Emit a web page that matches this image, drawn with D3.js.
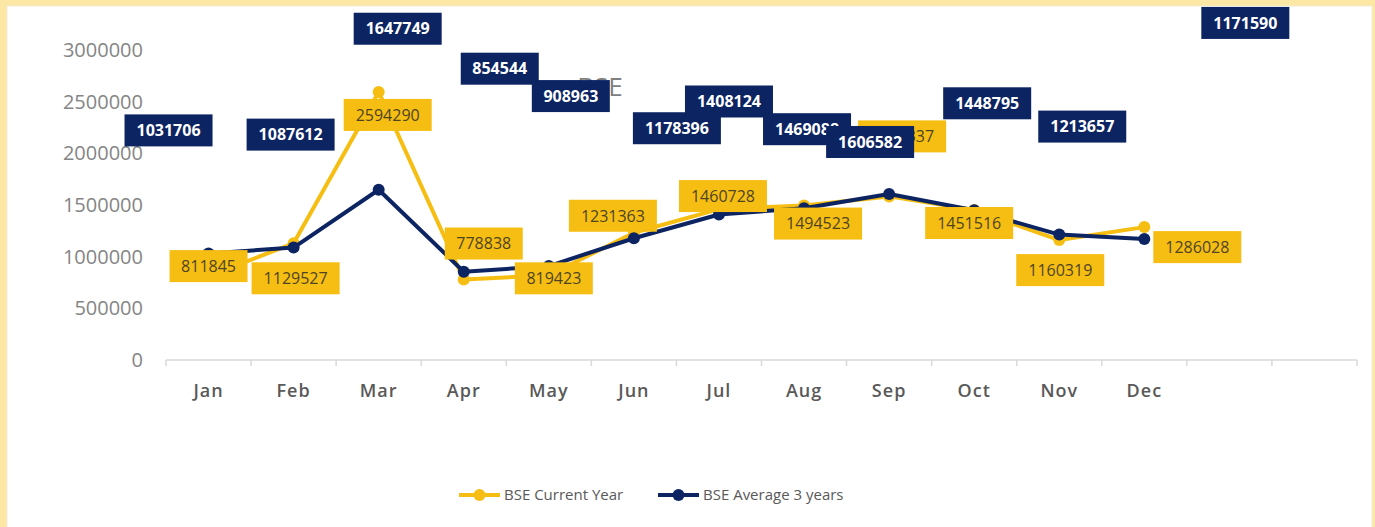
<!DOCTYPE html>
<html lang="en">
<head>
<meta charset="UTF-8">
<title>BSE</title>
<script src="https://d3js.org/d3.v7.min.js"></script>
<style>
  html, body { margin: 0; padding: 0; background: #fde7a4; }
  svg { display: block; }
</style>
</head>
<body>
<svg width="1375" height="527"></svg>
<script>
// chart values
const months = ["Jan", "Feb", "Mar", "Apr", "May", "Jun", "Jul", "Aug", "Sep", "Oct", "Nov", "Dec"];
const slots = 14; // axis has two empty categories at the end
const currentYear = [811845, 1129527, 2594290, 778838, 819423, 1231363, 1460728, 1494523, 1583337, 1451516, 1160319, 1286028];
const average3y = [1031706, 1087612, 1647749, 854544, 908963, 1178396, 1408124, 1469088, 1606582, 1448795, 1213657, 1171590];
const yTicks = [0, 500000, 1000000, 1500000, 2000000, 2500000, 3000000];

// where Excel dropped the data labels, relative to each point (px)
const curLabelOffset = [[0, -10], [2, 35], [9, 23], [20, -36], [5, 3], [-21, -17], [4, -13], [14, 18], [13, -60], [-5, 13], [1, 30], [53, 20]];
const avgLabelOffset = [[-40, -123], [-3, -113], [19, -161], [36, -203], [22, -170], [43, -110], [10, -113], [3, -79], [-19, -52], [13, -107], [23, -108], [101, -216]];

const yellow = "#f6be12";
const navy = "#0c2462";

const svg = d3.select("svg");
svg.append("rect").attr("x", 7).attr("y", 6).attr("width", 1365).attr("height", 530)
   .attr("fill", "#fff").attr("stroke", "#f3ecd6").attr("stroke-width", 1);

const x = d3.scaleBand().domain(d3.range(slots)).range([166, 1357]);
const y = d3.scaleLinear().domain([0, 3000000]).range([360, 50]);
const cx = i => x(i) + x.bandwidth() / 2;

// y axis labels (no axis line)
svg.append("g")
   .selectAll("text")
   .data(yTicks)
   .enter().append("text")
   .attr("x", 143)
   .attr("y", d => y(d))
   .attr("dy", "0.35em")
   .attr("text-anchor", "end")
   .attr("font-family", "Open Sans")
   .attr("font-size", 20)
   .attr("fill", "#858585")
   .text(d => d);

// x axis
const xa = svg.append("g");
xa.append("line").attr("x1", x.range()[0]).attr("x2", x.range()[1])
  .attr("y1", y(0)).attr("y2", y(0)).attr("stroke", "#d9d9d9").attr("stroke-width", 1.5);
xa.selectAll(".tk")
  .data(d3.range(slots + 1))
  .enter().append("line")
  .attr("x1", i => x.range()[0] + i * x.bandwidth())
  .attr("x2", i => x.range()[0] + i * x.bandwidth())
  .attr("y1", y(0)).attr("y2", y(0) + 6)
  .attr("stroke", "#d9d9d9").attr("stroke-width", 1.5);
xa.selectAll(".lbl")
  .data(months)
  .enter().append("text")
  .attr("x", (d, i) => cx(i))
  .attr("y", 397)
  .attr("text-anchor", "middle")
  .attr("font-family", "Open Sans")
  .attr("font-size", 18)
  .attr("font-weight", 600)
  .attr("letter-spacing", 1)
  .attr("fill", "#595959")
  .text(d => d);

// title, partly hidden behind labels like in the original
svg.append("text")
   .attr("x", 600).attr("y", 96)
   .attr("text-anchor", "middle")
   .attr("font-family", "Open Sans")
   .attr("font-size", 26)
   .attr("fill", "#808080")
   .text("BSE");

const line = d3.line().x((d, i) => cx(i)).y(d => y(d));

function drawSeries(values, color) {
  svg.append("path").datum(values)
     .attr("d", line)
     .attr("fill", "none")
     .attr("stroke", color)
     .attr("stroke-width", 4)
     .attr("stroke-linejoin", "round");
  svg.append("g").selectAll("circle")
     .data(values)
     .enter().append("circle")
     .attr("cx", (d, i) => cx(i))
     .attr("cy", d => y(d))
     .attr("r", 6)
     .attr("fill", color);
}
drawSeries(currentYear, yellow);
drawSeries(average3y, navy);

function drawLabels(values, offsets, bg, fg, weight) {
  const half = d => String(d).length * 5 + 9;
  const g = svg.append("g").selectAll("g")
     .data(values)
     .enter().append("g")
     .attr("transform", (d, i) => `translate(${cx(i) + offsets[i][0]},${y(d) + offsets[i][1]})`);
  g.append("rect")
   .attr("x", d => -half(d))
   .attr("y", -16)
   .attr("width", d => 2 * half(d))
   .attr("height", 32)
   .attr("fill", bg);
  g.append("text")
   .attr("text-anchor", "middle")
   .attr("dy", "0.36em")
   .attr("font-family", "Open Sans")
   .attr("font-size", 16)
   .attr("font-weight", weight)
   .attr("fill", fg)
   .text(d => d);
}
drawLabels(currentYear, curLabelOffset, yellow, "#4e4423", 400);
drawLabels(average3y, avgLabelOffset, navy, "#ffffff", 700);

// legend
const legend = [["BSE Current Year", yellow, 459], ["BSE Average 3 years", navy, 658]];
const lg = svg.append("g").selectAll("g")
  .data(legend)
  .enter().append("g")
  .attr("transform", d => `translate(${d[2]},495)`);
lg.append("line").attr("x1", 0).attr("x2", 41).attr("stroke", d => d[1]).attr("stroke-width", 4);
lg.append("circle").attr("cx", 20.5).attr("r", 6).attr("fill", d => d[1]);
lg.append("text")
  .attr("x", 45).attr("dy", "0.35em")
  .attr("font-family", "Open Sans")
  .attr("font-size", 15)
  .attr("fill", "#595959")
  .text(d => d[0]);
</script>
</body>
</html>
